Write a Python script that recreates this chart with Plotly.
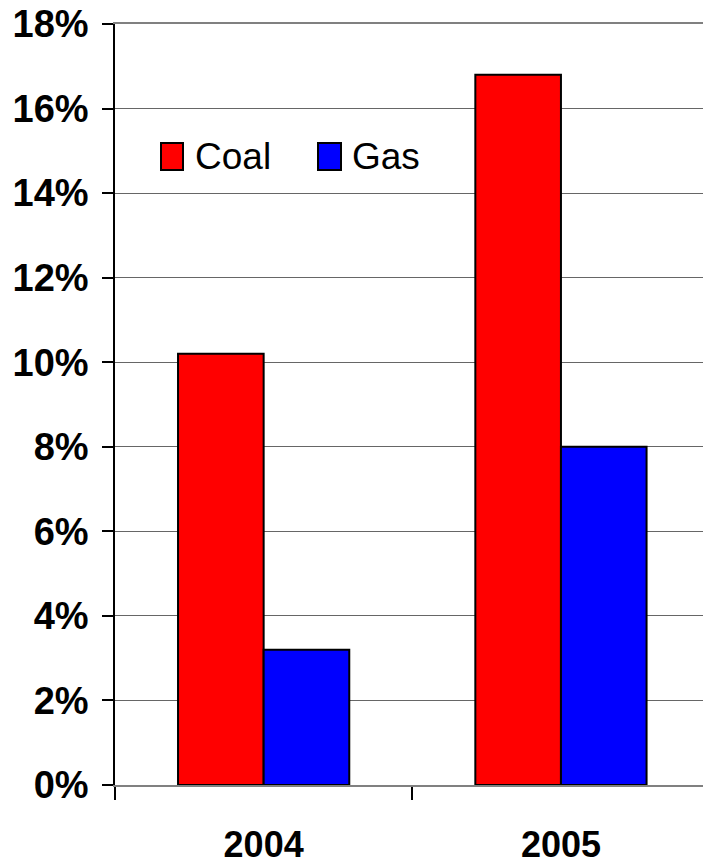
import plotly.graph_objects as go

# Chart data
years = ["2004", "2005"]
coal = [10.2, 16.8]
gas = [3.2, 8.0]
series_names = ["Coal", "Gas"]
y_ticks = [0, 2, 4, 6, 8, 10, 12, 14, 16, 18]
y_tick_labels = [f"{v}%" for v in y_ticks]

W, H = 703, 864
ML, MR, MT, MB = 115, 0, 24, 79
FONT = "Liberation Sans, Arial, sans-serif"

fig = go.Figure()
fig.add_trace(go.Bar(x=years, y=coal, name=series_names[0],
                     marker=dict(color="#FF0000", line=dict(color="#000000", width=2))))
fig.add_trace(go.Bar(x=years, y=gas, name=series_names[1],
                     marker=dict(color="#0000FF", line=dict(color="#000000", width=2))))

# helpers: pixel position -> paper coordinates
pw = W - ML - MR
ph = H - MT - MB


def px_x(x):
    return (x - ML) / pw


def px_y(y):
    return (H - MB - y) / ph


# hand-placed legend: coloured boxes with labels
legend_items = [
    (series_names[0], "#FF0000", 161, 183, 193),
    (series_names[1], "#0000FF", 318, 341, 350),
]
shapes = []
annotations = []
for name, color, x0, x1, tx in legend_items:
    shapes.append(dict(type="rect", xref="paper", yref="paper",
                       x0=px_x(x0), x1=px_x(x1), y0=px_y(170), y1=px_y(143),
                       fillcolor=color, line=dict(color="#000000", width=2)))
    annotations.append(dict(xref="paper", yref="paper", x=px_x(tx), y=px_y(157),
                            xanchor="left", yanchor="middle", showarrow=False,
                            text=name, font=dict(family=FONT, size=37, color="#000000")))

fig.update_layout(
    width=W, height=H,
    margin=dict(l=ML, r=MR, t=MT, b=MB, pad=0, autoexpand=False),
    paper_bgcolor="white", plot_bgcolor="white",
    barmode="group", bargap=0.424, bargroupgap=0,
    showlegend=False,
    shapes=shapes, annotations=annotations,
    font=dict(family=FONT, color="#000000"),
    xaxis=dict(
        type="category", automargin=False,
        range=[-0.5, -0.5 + pw / 297.3],
        showline=True, linecolor="#808080", linewidth=2, mirror=True,
        ticks="outside", tickson="boundaries", ticklen=13, tickcolor="#000000", tickwidth=1.5,
        tickfont=dict(family=FONT, size=36, color="#000000", weight="bold"),
        ticklabelstandoff=27,
        showgrid=False, zeroline=False,
    ),
    yaxis=dict(
        range=[0, 18], automargin=False,
        tickvals=y_ticks, ticktext=y_tick_labels,
        showline=True, linecolor="#000000", linewidth=1.5,
        ticks="outside", ticklen=11, tickcolor="#000000", tickwidth=1.5,
        tickfont=dict(family=FONT, size=38, color="#000000", weight="bold"),
        ticklabelstandoff=6,
        showgrid=True, gridcolor="#666666", gridwidth=1,
        zeroline=False,
    ),
)

fig.write_html("out.html")
